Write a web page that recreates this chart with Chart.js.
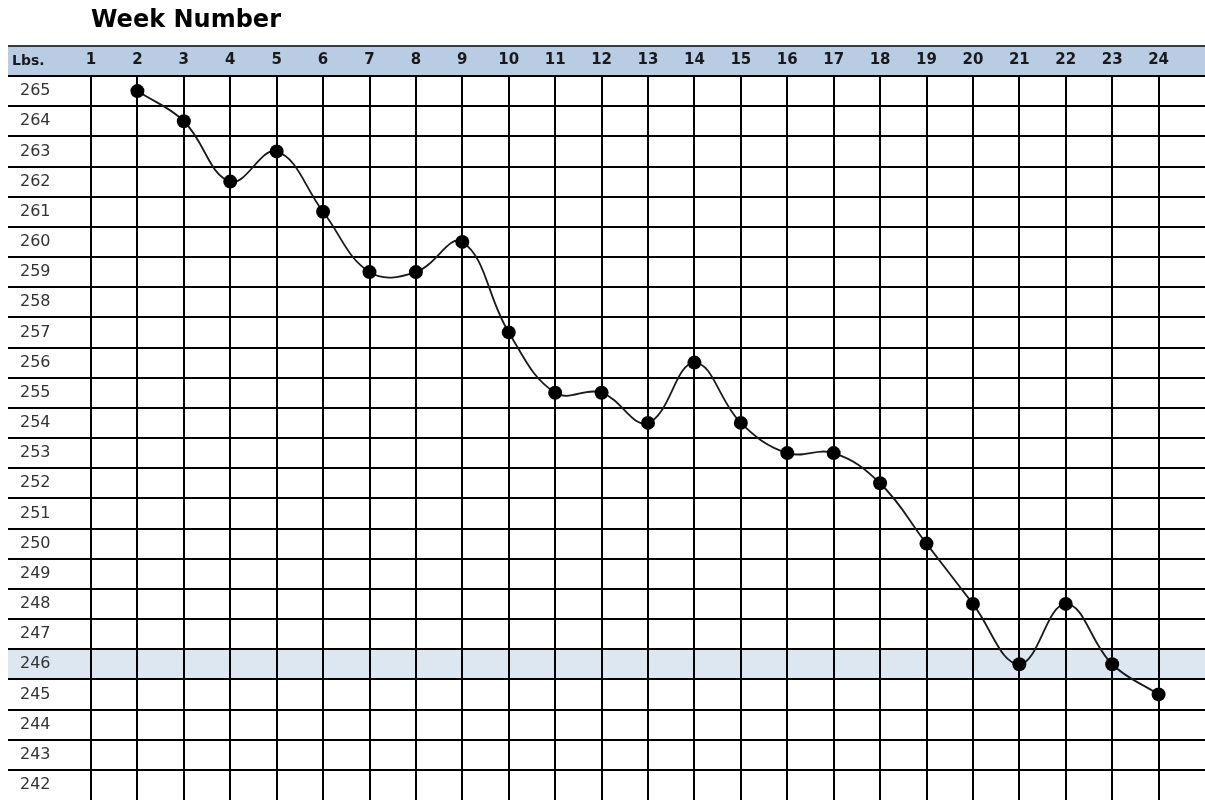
<!DOCTYPE html>
<html>
<head>
<meta charset="utf-8">
<script src="https://cdn.jsdelivr.net/npm/chart.js"></script>
<style>
  body { margin: 0; background: #fff; }
  #wrap { width: 1205px; height: 800px; }
</style>
</head>
<body>
<div id="wrap"><canvas id="weightchart"></canvas></div>
<script>
// weekly weigh-ins
var weeks = [2, 3, 4, 5, 6, 7, 8, 9, 10, 11, 12, 13, 14, 15, 16, 17, 18, 19, 20, 21, 22, 23, 24];
var weights = [265, 264, 262, 263, 261, 259, 259, 260, 257, 255, 255, 254, 256, 254, 253, 253, 252, 250, 248, 246, 248, 246, 245];

// sheet labels
var weekLabels = [1, 2, 3, 4, 5, 6, 7, 8, 9, 10, 11, 12, 13, 14, 15, 16, 17, 18, 19, 20, 21, 22, 23, 24];
var lbsLabels = [242, 243, 244, 245, 246, 247, 248, 249, 250, 251, 252, 253, 254, 255, 256, 257, 258, 259, 260, 261, 262, 263, 264, 265];
var goalRow = 246;

Chart.defaults.font.family = "DejaVu Sans";

// header band, goal row and the "Lbs." cell, drawn under the grid
var sheetBackground = {
  id: "sheetBackground",
  beforeDraw(chart) {
    var ctx = chart.ctx;
    var x = chart.scales.x;
    var y = chart.scales.y;
    var left = 8;
    var right = chart.chartArea.right;
    var top = x.bottom - 30;

    ctx.save();
    ctx.fillStyle = "#fff";
    ctx.fillRect(0, 0, chart.width, chart.height);

    ctx.fillStyle = "#b8cce4";
    ctx.fillRect(left, top, right - left, 30);
    ctx.strokeStyle = "#3a3a3a";
    ctx.lineWidth = 2;
    ctx.beginPath();
    ctx.moveTo(left, top);
    ctx.lineTo(right, top);
    ctx.stroke();

    var y1 = y.getPixelForValue(goalRow + 0.5);
    var y2 = y.getPixelForValue(goalRow - 0.5);
    ctx.fillStyle = "#dde7f2";
    ctx.fillRect(left, y1, right - left, y2 - y1);

    ctx.fillStyle = "#1a1a1a";
    ctx.font = "bold 14px DejaVu Sans";
    ctx.textBaseline = "middle";
    ctx.textAlign = "left";
    ctx.fillText("Lbs.", 12, top + 15);
    ctx.restore();
  }
};

new Chart("weightchart", {
  type: "line",
  data: {
    labels: weeks,
    datasets: [{
      data: weeks.map(function (w, i) { return {x: w, y: weights[i]}; }),
      borderColor: "#1a1a1a",
      borderWidth: 1.8,
      backgroundColor: "#000",
      pointRadius: 7,
      pointBorderWidth: 0,
      pointHoverRadius: 7,
      tension: 0.4,
      fill: false
    }]
  },
  plugins: [sheetBackground],
  options: {
    responsive: true,
    maintainAspectRatio: false,
    animation: false,
    layout: {autoPadding: false, padding: {left: 20, right: 0, top: 0, bottom: 0}},
    plugins: {
      legend: {display: false},
      tooltip: {enabled: false}
    },
    scales: {
      x: {
        type: "linear",
        position: "top",
        min: 1,
        max: 25,
        afterBuildTicks: function (axis) {
          axis.ticks = weekLabels.concat([25]).map(function (v) { return {value: v}; });
        },
        afterFit: function (axis) {
          axis.height = 76;
          axis.paddingLeft = 0;
          axis.paddingRight = 0;
        },
        grid: {
          color: function (c) { return c.tick && c.tick.value === 25 ? "rgba(0,0,0,0)" : "#000"; },
          lineWidth: 2,
          drawTicks: false
        },
        border: {display: false},
        ticks: {
          autoSkip: false,
          maxRotation: 0,
          padding: 7,
          color: "#1a1a1a",
          font: {size: 15, weight: "bold"},
          callback: function (v) { return weekLabels.indexOf(v) >= 0 ? String(v) : ""; }
        },
        title: {
          display: true,
          text: "Week Number",
          align: "start",
          color: "#000",
          padding: {top: 6, bottom: 0},
          font: {size: 24, weight: "bold"}
        }
      },
      y: {
        type: "linear",
        min: 241.5,
        max: 265.5,
        afterBuildTicks: function (axis) {
          axis.ticks = lbsLabels.map(function (v) { return {value: v}; });
        },
        afterFit: function (axis) {
          axis.width = 71;
          axis.paddingTop = 0;
          axis.paddingBottom = 0;
        },
        grid: {
          color: function (c) { return c.index === 0 ? "rgba(0,0,0,0)" : "#000"; },
          lineWidth: 2,
          offset: true,
          drawTicks: true,
          tickLength: 83
        },
        border: {display: false},
        ticks: {
          autoSkip: false,
          crossAlign: "far",
          color: "#333",
          font: {size: 16}
        }
      }
    }
  }
});
</script>
</body>
</html>
